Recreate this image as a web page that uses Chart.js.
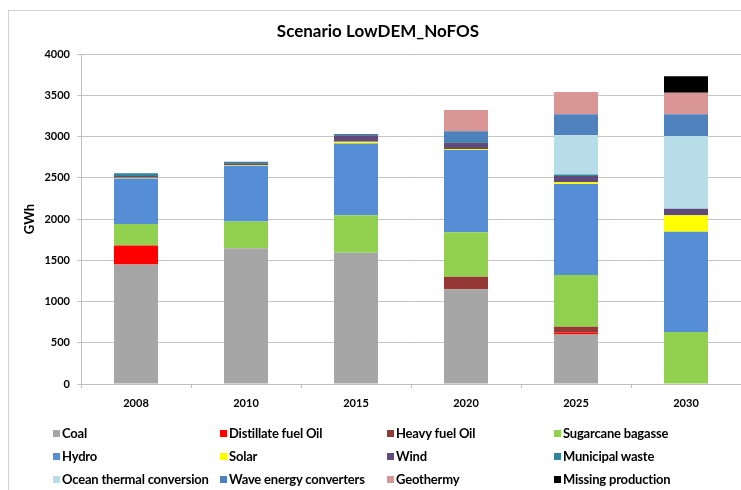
<!DOCTYPE html>
<html>
<head>
<meta charset="utf-8">
<script src="https://cdn.jsdelivr.net/npm/chart.js@4.4.1/dist/chart.umd.min.js"></script>
<style>
  body { margin: 0; background: #fff; }
  #wrap { position: relative; width: 741px; height: 490px; overflow: hidden; }
  #frame { position: absolute; left: 8px; top: 10px; width: 800px; height: 520px;
    border-left: 1px solid #d0d0d0; border-top: 1px solid #d0d0d0; }
  #chart { position: absolute; left: 0; top: 0; }
  #title { position: absolute; left: 228px; width: 300px; top: 20px; text-align: center;
    font: bold 17px Lato, sans-serif; color: #000; }
  #legend { position: absolute; left: 0; top: 0; }
  .item { position: absolute; font: bold 13px Lato, sans-serif; letter-spacing: -0.2px;
    color: #000; white-space: nowrap; line-height: 14px; }
  .item span { position: absolute; width: 7px; height: 7px; left: -9px; top: 4px; }
</style>
</head>
<body>
<div id="wrap">
  <div id="frame"></div>
  <canvas id="chart" width="741" height="490"></canvas>
  <div id="title">Scenario LowDEM_NoFOS</div>
  <div id="legend"></div>
</div>
<script>
// years on the x axis
const years = ['2008', '2010', '2015', '2020', '2025', '2030'];

// GWh per source
const coal = [1450, 1645, 1590, 1150, 600, 0];
const distillateFuelOil = [230, 0, 0, 0, 25, 0];
const heavyFuelOil = [0, 0, 0, 150, 70, 0];
const sugarcaneBagasse = [260, 325, 455, 540, 625, 630];
const hydro = [550, 675, 870, 995, 1105, 1215];
const solar = [10, 10, 20, 15, 20, 200];
const wind = [20, 20, 80, 75, 75, 80];
const municipalWaste = [35, 20, 15, 20, 20, 0];
const oceanThermal = [0, 0, 0, 0, 475, 880];
const waveEnergy = [0, 0, 0, 120, 255, 265];
const geothermy = [0, 0, 0, 255, 270, 260];
const missingProduction = [0, 0, 0, 0, 0, 200];

const yTicks = [0, 500, 1000, 1500, 2000, 2500, 3000, 3500, 4000];

const seriesNames = ['Coal', 'Distillate fuel Oil', 'Heavy fuel Oil', 'Sugarcane bagasse',
  'Hydro', 'Solar', 'Wind', 'Municipal waste',
  'Ocean thermal conversion', 'Wave energy converters', 'Geothermy', 'Missing production'];
const seriesData = [coal, distillateFuelOil, heavyFuelOil, sugarcaneBagasse,
  hydro, solar, wind, municipalWaste,
  oceanThermal, waveEnergy, geothermy, missingProduction];
const seriesColors = ['#a6a6a6', '#ff0000', '#953735', '#92d050',
  '#558ed5', '#ffff00', '#604a7b', '#31859c',
  '#b7dee8', '#4f81bd', '#d99694', '#000000'];

const tickFont = { family: 'Lato, sans-serif', size: 11, weight: 'bold' };

const datasets = seriesNames.map((name, i) => ({
  label: name,
  data: seriesData[i],
  backgroundColor: seriesColors[i],
  borderWidth: 0,
  categoryPercentage: 1,
  barPercentage: 0.4
}));

new Chart(document.getElementById('chart'), {
  type: 'bar',
  data: { labels: years, datasets: datasets },
  options: {
    responsive: false,
    animation: false,
    devicePixelRatio: 1,
    layout: { padding: { left: 8, top: 54, right: 0, bottom: 76 } },
    plugins: {
      legend: { display: false },
      title: { display: false },
      tooltip: { enabled: false }
    },
    scales: {
      x: {
        stacked: true,
        afterFit: s => { s.height = 30; },
        grid: { drawOnChartArea: false, tickLength: 4, color: '#bfbfbf' },
        border: { color: '#bfbfbf' },
        ticks: { color: '#000', font: tickFont, padding: 9, maxRotation: 0 }
      },
      y: {
        stacked: true,
        min: 0,
        max: 4000,
        afterFit: s => { s.width = 73; },
        afterBuildTicks: s => { s.ticks = yTicks.map(v => ({ value: v })); },
        grid: { color: '#c4c4c4', tickLength: 4 },
        border: { color: '#bfbfbf' },
        ticks: { color: '#000', font: tickFont, padding: 7, callback: v => String(v) },
        title: {
          display: true,
          text: 'GWh',
          color: '#000',
          font: { family: tickFont.family, size: 13, weight: 'bold' },
          padding: { top: 14, bottom: 0 }
        }
      }
    }
  }
});

// legend: 4 columns, 3 rows
const legend = document.getElementById('legend');
const colX = [62, 229, 396, 563];
const rowY = [426, 449, 472];
seriesNames.forEach((name, i) => {
  const div = document.createElement('div');
  div.className = 'item';
  div.style.left = colX[i % 4] + 'px';
  div.style.top = rowY[Math.floor(i / 4)] + 'px';
  const sq = document.createElement('span');
  sq.style.background = seriesColors[i];
  div.appendChild(sq);
  div.appendChild(document.createTextNode(name));
  legend.appendChild(div);
});
</script>
</body>
</html>
